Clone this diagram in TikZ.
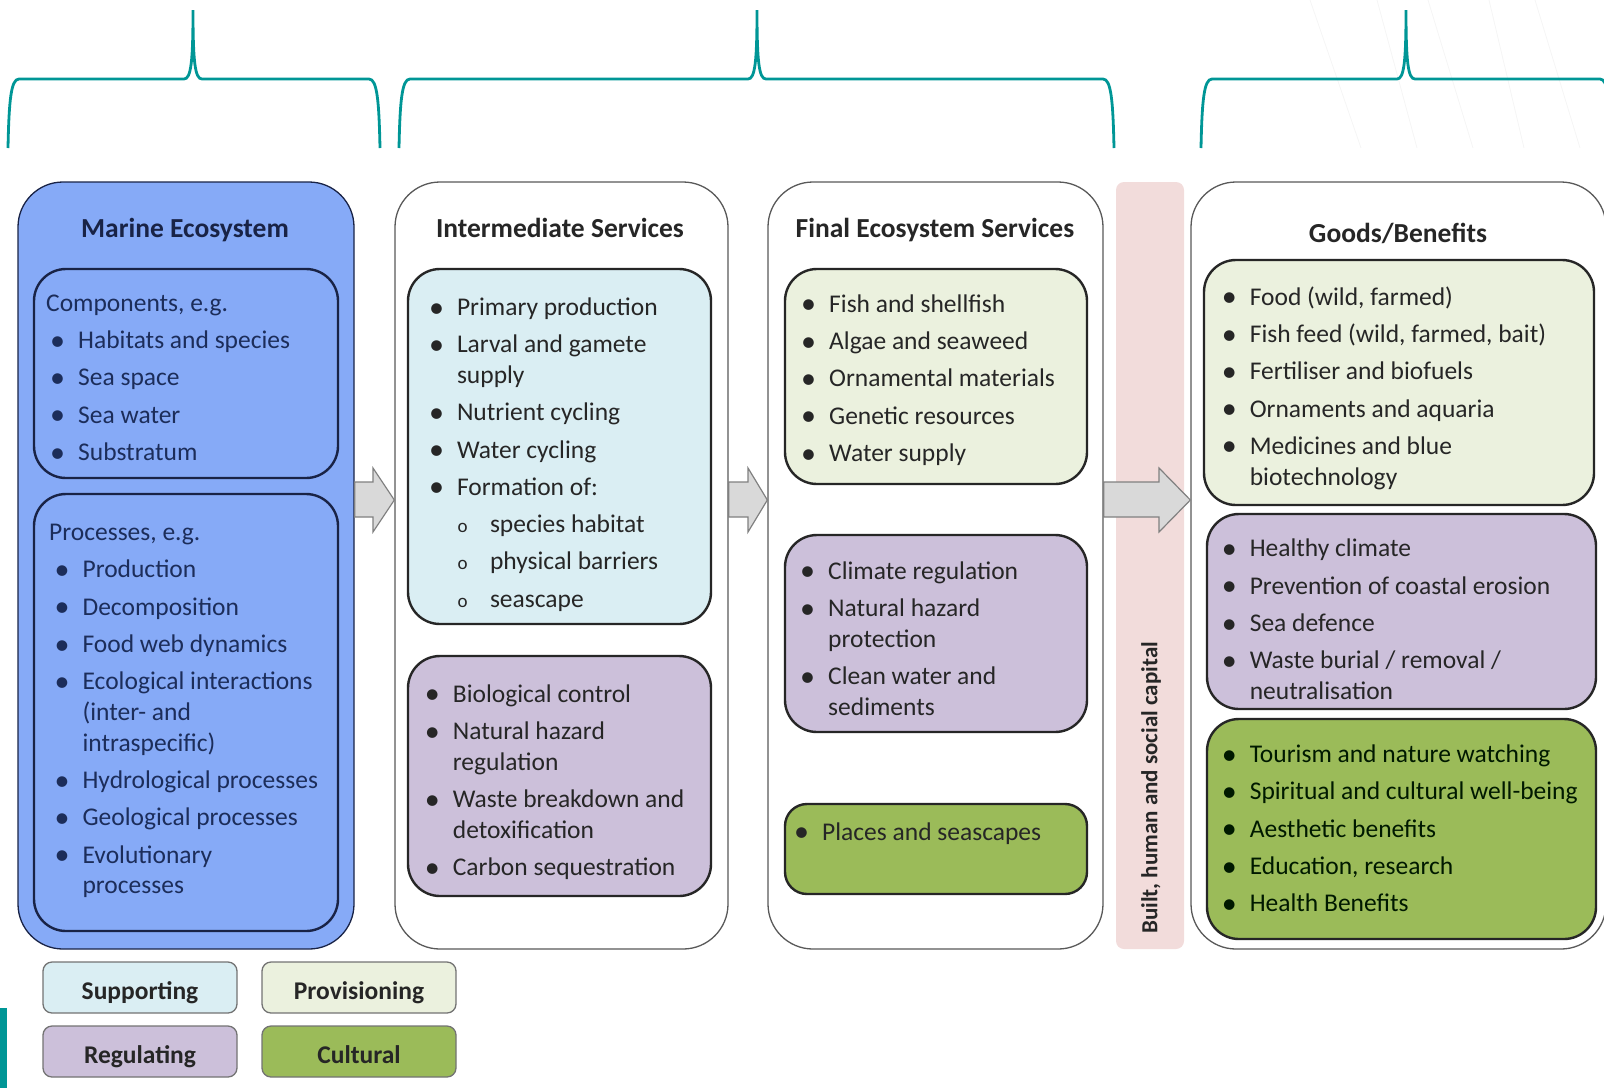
\documentclass[tikz,border=0pt]{standalone}
\usepackage{fontspec}
\setmainfont{Carlito}
\usetikzlibrary{calc}
\definecolor{tealbr}{RGB}{0,150,150}
\definecolor{marine}{RGB}{134,170,247}
\definecolor{suppc}{RGB}{218,238,243}
\definecolor{provc}{RGB}{235,241,222}
\definecolor{reguc}{RGB}{204,192,218}
\definecolor{cultc}{RGB}{155,187,89}
\definecolor{capit}{RGB}{242,220,219}
\definecolor{arrgrey}{RGB}{217,217,217}
\definecolor{ink}{RGB}{38,38,38}
\definecolor{navy}{RGB}{25,35,70}
\definecolor{navytxt}{RGB}{28,45,90}
\newlength{\bw}\setlength{\bw}{28pt}
\newcommand{\bl}{\makebox[\bw][l]{\raisebox{-1.6pt}{\fontsize{30}{30}\selectfont\textbullet}}}
\newcommand{\ig}{6.6pt}
\newcommand{\sbl}[1]{\multicolumn{2}{@{}l@{}}{\hspace{28.7pt}\makebox[32.3pt][l]{\fontsize{19}{19}\selectfont o}#1}}
\newcommand{\hd}[2]{\multicolumn{2}{@{}l@{}}{\hspace{#1}#2}}
\newcommand{\tealbrace}[3]{\draw[bracelw] (#1,148) .. controls (#1+1,100) and (#1+3,79) .. (#1+11,79) -- (#2-9,79) .. controls (#2-2,79) and (#2,62) .. (#2,10) .. controls (#2,62) and (#2+2,79) .. (#2+9,79) -- (#3-11,79) .. controls (#3-3,79) and (#3-1,100) .. (#3,148);}
\newcommand{\garrow}[3]{\draw[blockarr] (#1.east |- 0,482) -- (#3,482) -- (#3,468) -- (#2.west |- 0,500) -- (#3,532) -- (#3,517) -- (#1.east |- 0,517) -- cycle;}
\tikzset{
  bracelw/.style={draw=tealbr, line width=2.8pt},
  column/.style={draw=black!65, line width=1.3pt, rounded corners=45pt, minimum width=#1, minimum height=767pt, inner sep=0pt},
  ibox/.style={draw=ink, line width=2.4pt, rounded corners=32pt, inner sep=0pt},
  legend/.style={draw=black!55, line width=1.3pt, rounded corners=9pt, minimum width=194pt, minimum height=51pt, text height=28pt, text depth=5pt, text=ink, font=\fontsize{25.5}{30}\selectfont\bfseries},
  title/.style={anchor=base, inner sep=0pt, text=ink, font=\fontsize{27.5}{33}\selectfont\bfseries},
  txt/.style={anchor=base west, inner sep=0pt, text=ink, font=\fontsize{25.5}{30.7}\selectfont},
  blockarr/.style={fill=arrgrey, draw=black!50, line width=1.2pt, line join=miter}
}
\begin{document}
\begin{tikzpicture}[x=1pt,y=-1pt]
  %%%%% START %%%%%
  \useasboundingbox (0,0) rectangle (1604,1088);

  % faint background strokes
  \foreach \a/\b in {1310/1361,1377/1417,1428/1473,1489/1524,1535/1580}
    \draw[black!4, line width=0.8pt] (\a,0) -- (\b,148);

  \tealbrace{8}{193}{380}
  \tealbrace{399}{757}{1114}
  \tealbrace{1201}{1406}{1611}

  % columns
  \node[column=336pt, fill=marine, draw=navy] (col1) at (186,565.5) {};
  \node[column=333pt, fill=white] (col2) at (561.5,565.5) {};
  \node[column=335pt, fill=white] (col3) at (935.5,565.5) {};
  \node[draw=none, fill=capit, rounded corners=8pt, minimum width=68pt, minimum height=767pt] (capbar) at (1150,565.5) {};
  \node[column=415pt, fill=white] (col4) at (1398.5,565.5) {};

  \node[title, text=navy] (t1) at (185,237) {Marine Ecosystem};
  \node[title] (t2) at (560,237) {Intermediate Services};
  \node[title] (t3) at (935,237) {Final Ecosystem Services};
  \node[title] (t4) at (1398,242) {Goods/Benefits};

  \node[rotate=90, inner sep=0pt, text=ink, font=\fontsize{23}{28}\selectfont\bfseries] (cap) at (1151,788) {Built, human and social capital};

  % inner boxes
  \node[ibox, draw=navy, minimum width=304pt, minimum height=209pt] (comp) at (186,373.5) {};
  \node[ibox, draw=navy, minimum width=304pt, minimum height=437pt] (proc) at (186,712.5) {};
  \node[ibox, fill=suppc, minimum width=303pt, minimum height=355pt] (supp2) at (559.5,446.5) {};
  \node[ibox, fill=reguc, minimum width=303pt, minimum height=240pt] (reg2) at (559.5,776) {};
  \node[ibox, fill=provc, minimum width=302pt, minimum height=215pt] (prov3) at (936,376.5) {};
  \node[ibox, fill=reguc, minimum width=302pt, minimum height=197pt] (reg3) at (936,633.5) {};
  \node[ibox, fill=cultc, rounded corners=22pt, minimum width=302pt, minimum height=90pt] (cult3) at (936,849) {};
  \node[ibox, fill=provc, minimum width=390pt, minimum height=245pt] (prov4) at (1399,382.5) {};
  \node[ibox, fill=reguc, minimum width=389pt, minimum height=195pt] (reg4) at (1401.5,611.5) {};
  \node[ibox, fill=cultc, minimum width=389pt, minimum height=220pt] (cult4) at (1401.5,829) {};

  % texts
  \node[txt, text=navytxt] (comptxt) at (50,311.3) {\begin{tabular}[t]{@{}l@{}l@{}}
    \hd{-4pt}{Components, e.g.}\\[\ig]
    \bl & Habitats and species\\[\ig]
    \bl & Sea space\\[\ig]
    \bl & Sea water\\[\ig]
    \bl & Substratum
  \end{tabular}};
  \node[txt, text=navytxt] (proctxt) at (54.4,540.5) {\begin{tabular}[t]{@{}l@{}l@{}}
    \hd{-5.4pt}{Processes, e.g.}\\[\ig]
    \bl & Production\\[\ig]
    \bl & Decomposition\\[\ig]
    \bl & Food web dynamics\\[\ig]
    \bl & Ecological interactions\\
        & (inter- and\\
        & intraspecific)\\[\ig]
    \bl & Hydrological processes\\[\ig]
    \bl & Geological processes\\[\ig]
    \bl & Evolutionary\\
        & processes
  \end{tabular}};
  \node[txt] (supptxt) at (428.8,315.4) {\begin{tabular}[t]{@{}l@{}l@{}}
    \bl & Primary production\\[\ig]
    \bl & Larval and gamete\\
        & supply\\[\ig]
    \bl & Nutrient cycling\\[\ig]
    \bl & Water cycling\\[\ig]
    \bl & Formation of:\\[\ig]
    \sbl{species habitat}\\[\ig]
    \sbl{physical barriers}\\[\ig]
    \sbl{seascape}
  \end{tabular}};
  \node[txt] (reg2txt) at (424.7,702.3) {\begin{tabular}[t]{@{}l@{}l@{}}
    \bl & Biological control\\[\ig]
    \bl & Natural hazard\\
        & regulation\\[\ig]
    \bl & Waste breakdown and\\
        & detoxification\\[\ig]
    \bl & Carbon sequestration
  \end{tabular}};
  \node[txt] (prov3txt) at (801,312.3) {\begin{tabular}[t]{@{}l@{}l@{}}
    \bl & Fish and shellfish\\[\ig]
    \bl & Algae and seaweed\\[\ig]
    \bl & Ornamental materials\\[\ig]
    \bl & Genetic resources\\[\ig]
    \bl & Water supply
  \end{tabular}};
  \node[txt] (reg3txt) at (800,579.3) {\begin{tabular}[t]{@{}l@{}l@{}}
    \bl & Climate regulation\\[\ig]
    \bl & Natural hazard\\
        & protection\\[\ig]
    \bl & Clean water and\\
        & sediments
  \end{tabular}};
  \node[txt] (cult3txt) at (794,840.2) {\begin{tabular}[t]{@{}l@{}l@{}}
    \bl & Places and seascapes
  \end{tabular}};
  \node[txt] (prov4txt) at (1221.6,305.1) {\begin{tabular}[t]{@{}l@{}l@{}}
    \bl & Food (wild, farmed)\\[\ig]
    \bl & Fish feed (wild, farmed, bait)\\[\ig]
    \bl & Fertiliser and biofuels\\[\ig]
    \bl & Ornaments and aquaria\\[\ig]
    \bl & Medicines and blue\\
        & biotechnology
  \end{tabular}};
  \node[txt] (reg4txt) at (1221.6,556.8) {\begin{tabular}[t]{@{}l@{}l@{}}
    \bl & Healthy climate\\[\ig]
    \bl & Prevention of coastal erosion\\[\ig]
    \bl & Sea defence\\[\ig]
    \bl & Waste burial / removal /\\
        & neutralisation
  \end{tabular}};
  \node[txt, text=black!90!green] (cult4txt) at (1221.6,762.5) {\begin{tabular}[t]{@{}l@{}l@{}}
    \bl & Tourism and nature watching\\[\ig]
    \bl & Spiritual and cultural well-being\\[\ig]
    \bl & Aesthetic benefits\\[\ig]
    \bl & Education, research\\[\ig]
    \bl & Health Benefits
  \end{tabular}};

  % arrows between columns
  \garrow{col1}{col2}{373}
  \garrow{col2}{col3}{748}
  \garrow{col3}{col4}{1159}

  % legend
  \node[legend, fill=suppc] (lsupp) at (140,987.5) {Supporting};
  \node[legend, fill=provc] (lprov) at (359,987.5) {Provisioning};
  \node[legend, fill=reguc] (lregu) at (140,1051.5) {Regulating};
  \node[legend, fill=cultc] (lcult) at (359,1051.5) {Cultural};

  \fill[tealbr] (0,1008) rectangle (6.5,1088);
  %%%%% END %%%%%
\end{tikzpicture}
\end{document}
